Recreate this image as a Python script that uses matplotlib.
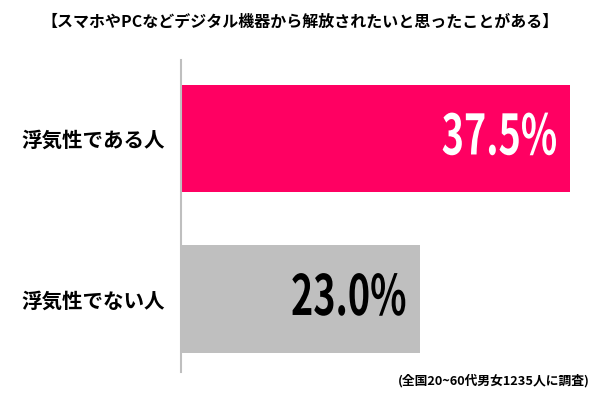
import matplotlib
matplotlib.use("Agg")
import matplotlib.pyplot as plt
from matplotlib import patheffects
from matplotlib.transforms import Affine2D

plt.rcParams['font.family'] = ['Noto Sans CJK JP', 'DejaVu Sans']

title = '【スマホやPCなどデジタル機器から解放されたいと思ったことがある】'
note = '(全国20~60代男女1235人に調査)'
categories = ['浮気性である人', '浮気性でない人']
values = [37.5, 23.0]
colors = ['#FF0062', '#BFBFBF']
text_colors = ['white', 'black']


class Condense(patheffects.AbstractPathEffect):
    # squeeze the glyphs horizontally around their right edge (narrow font look)
    def __init__(self, sx):
        super().__init__()
        self.sx = sx

    def draw_path(self, renderer, gc, tpath, affine, rgbFace=None):
        xmax = tpath.vertices[:, 0].max()
        squeeze = Affine2D().translate(-xmax, 0).scale(self.sx, 1).translate(xmax, 0)
        renderer.draw_path(gc, tpath, squeeze + affine, rgbFace)


fig = plt.figure(figsize=(6, 4), dpi=100)
ax = fig.add_axes([181 / 600, 28 / 400, 415 / 600, 312 / 400])

pos = list(range(len(categories)))
ax.barh(pos, values, height=0.667, color=colors)
ax.set_xlim(0, 40)
ax.set_ylim(1.455, -0.489)

for p, v, c in zip(pos, values, text_colors):
    ax.text(v - 1.2, p, f'{v:.1f}%', ha='right', va='center', color=c,
            fontsize=40, fontweight='bold', path_effects=[Condense(0.68)])

ax.set_yticks(pos)
ax.set_yticklabels(categories, fontsize=14.8, fontweight='bold')
ax.tick_params(axis='y', length=0, pad=11.5)
ax.set_xticks([])
for s in ['top', 'right', 'bottom']:
    ax.spines[s].set_visible(False)
ax.spines['left'].set_color('#BFBFBF')
ax.spines['left'].set_linewidth(1.5)

fig.text(0.5, 1 - 22 / 400, title, ha='center', va='center', fontsize=11.5, fontweight='bold')
fig.text(590 / 600, 1 - 381 / 400, note, ha='right', va='center', fontsize=9.2, fontweight='bold')

fig.savefig('out.png', dpi=100)
